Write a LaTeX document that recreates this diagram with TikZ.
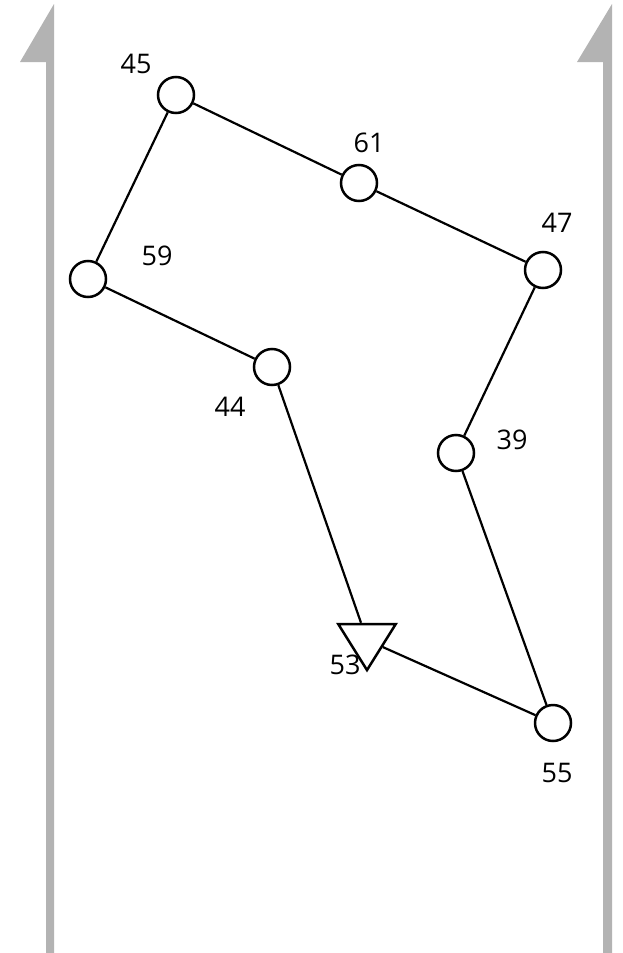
\documentclass[tikz,border=0pt]{standalone}
\usepackage{fontspec}
\setmainfont{Open Sans}
\usetikzlibrary{shapes.geometric}
\definecolor{railgray}{HTML}{B3B3B3}
\tikzset{
  vert/.style={circle,draw=black,line width=2.5pt,fill=white,minimum size=36pt,inner sep=0pt},
  goal/.style={isosceles triangle,isosceles triangle apex angle=64,shape border rotate=270,draw=black,line width=2.5pt,fill=white,minimum height=46pt,inner sep=0pt},
  lbl/.style={font=\fontsize{27}{30}\selectfont,inner sep=0pt},
  edge/.style={line width=2.2pt,black},
  rail/.style={fill=railgray,draw=none}
}
\begin{document}
\begin{tikzpicture}[x=1pt,y=-1pt]
\useasboundingbox (0,0) rectangle (623,953);
% rails
\fill[rail] (46,953) -- (46,62) -- (20,62) -- (54,4) -- (54,953) -- cycle;
\fill[rail] (603,953) -- (603,62) -- (577,62) -- (612,4) -- (612,953) -- cycle;
% nodes
\node[vert] (n45) at (176,95) {};
\node[vert] (n61) at (359,183) {};
\node[vert] (n47) at (543,270) {};
\node[vert] (n59) at (88,279) {};
\node[vert] (n44) at (272,367) {};
\node[vert] (n39) at (456,453) {};
\node[goal] (n53) at (367,640) {};
\node[vert] (n55) at (553,723) {};
% edges
\draw[edge] (n45) -- (n61);
\draw[edge] (n61) -- (n47);
\draw[edge] (n45) -- (n59);
\draw[edge] (n59) -- (n44);
\draw[edge] (n44) -- (n53);
\draw[edge] (n47) -- (n39);
\draw[edge] (n39) -- (n55);
\draw[edge] (n55) -- (n53);
% labels
\node[lbl] (l45) at (136,64) {45};
\node[lbl] (l61) at (369,143) {61};
\node[lbl] (l47) at (557,223) {47};
\node[lbl] (l59) at (157,256) {59};
\node[lbl] (l44) at (230,407) {44};
\node[lbl] (l39) at (512,440) {39};
\node[lbl] (l53) at (345,665) {53};
\node[lbl] (l55) at (557,773) {55};
\end{tikzpicture}
\end{document}
